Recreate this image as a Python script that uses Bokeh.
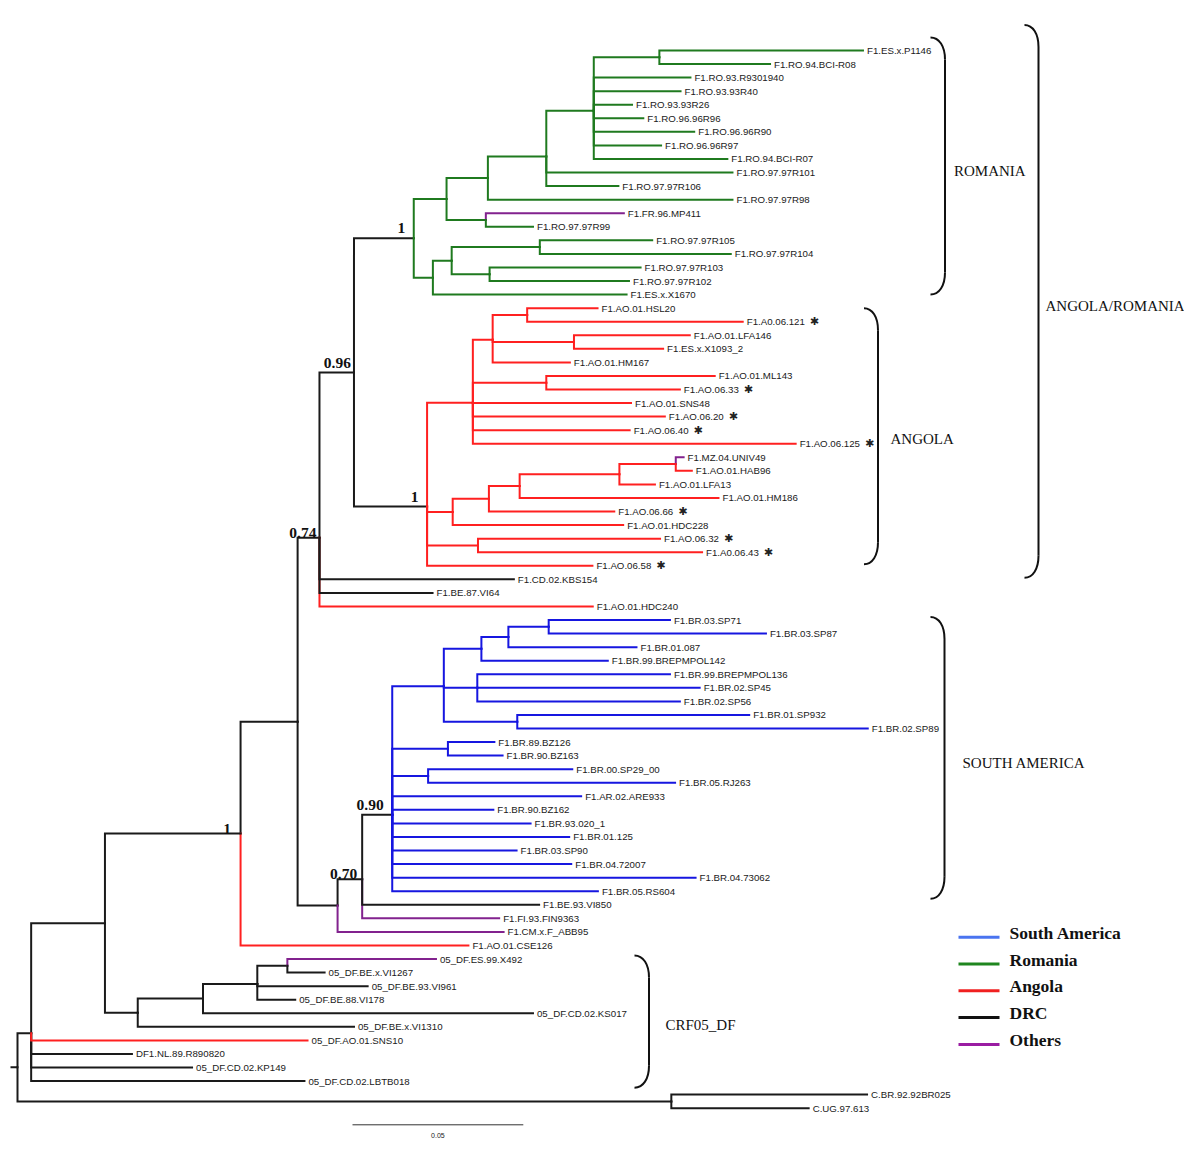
import numpy as np
from bokeh.plotting import figure
from bokeh.models import Range1d
from bokeh.embed import file_html
from bokeh.resources import INLINE
from bokeh.core.properties import value

# ---------------- data: internal nodes (depth in substitutions/site) ----------------
node_names = ["root", "ingroup", "n104", "n240", "n297", "n319", "n353",
              "rom", "romA", "romC", "romE", "romF", "romG", "romD", "romB", "romH", "romI", "romJ",
              "ang", "angK", "angR", "angT", "angU", "angS", "angL", "angN", "angO", "angP", "angQ", "angM",
              "n337", "n362", "sa", "saV", "saW", "saZ", "saAA", "saX", "saY", "saBB", "saCC",
              "df", "df202", "df257", "df287", "outC"]
node_parents = [None, "root", "ingroup", "n104", "n240", "n297", "n319",
                "n353", "rom", "romA", "romC", "romE", "romF", "romA", "rom", "romB", "romH", "romH",
                "n353", "ang", "angK", "angR", "angR", "angK", "ang", "angL", "angN", "angO", "angP", "ang",
                "n297", "n337", "n362", "sa", "saV", "saW", "saZ", "saV", "saV", "sa", "sa",
                "n104", "df", "df202", "df257", "root"]
node_depth = [0.0, 0.0040, 0.0256, 0.0653, 0.0820, 0.0884, 0.0985,
              0.1160, 0.1256, 0.1377, 0.1548, 0.1687, 0.1879, 0.1371, 0.1216, 0.1271, 0.1529, 0.1382,
              0.1199, 0.1333, 0.1391, 0.1492, 0.1629, 0.1548, 0.1274, 0.1380, 0.1470, 0.1762, 0.1927, 0.1348,
              0.0937, 0.1009, 0.1097, 0.1248, 0.1358, 0.1437, 0.1555, 0.1346, 0.1463, 0.1260, 0.1202,
              0.0352, 0.0543, 0.0702, 0.0790, 0.1914]
node_group = ["DRC", "DRC", "DRC", "DRC", "DRC", "DRC", "DRC",
              "DRC", "RO", "RO", "RO", "RO", "RO", "RO", "RO", "RO", "RO", "RO",
              "DRC", "AO", "AO", "AO", "AO", "AO", "AO", "AO", "AO", "AO", "AO", "AO",
              "DRC", "DRC", "DRC", "SA", "SA", "SA", "SA", "SA", "SA", "SA", "SA",
              "DRC", "DRC", "DRC", "DRC", "DRC"]

# ---------------- data: leaves (top to bottom) ----------------
leaf_names = ["F1.ES.x.P1146", "F1.RO.94.BCI-R08", "F1.RO.93.R9301940", "F1.RO.93.93R40", "F1.RO.93.93R26",
              "F1.RO.96.96R96", "F1.RO.96.96R90", "F1.RO.96.96R97", "F1.RO.94.BCI-R07", "F1.RO.97.97R101",
              "F1.RO.97.97R106", "F1.RO.97.97R98", "F1.FR.96.MP411", "F1.RO.97.97R99", "F1.RO.97.97R105",
              "F1.RO.97.97R104", "F1.RO.97.97R103", "F1.RO.97.97R102", "F1.ES.x.X1670",
              "F1.AO.01.HSL20", "F1.A0.06.121", "F1.AO.01.LFA146", "F1.ES.x.X1093_2", "F1.AO.01.HM167",
              "F1.AO.01.ML143", "F1.AO.06.33", "F1.AO.01.SNS48", "F1.AO.06.20", "F1.AO.06.40",
              "F1.AO.06.125", "F1.MZ.04.UNIV49", "F1.AO.01.HAB96", "F1.AO.01.LFA13", "F1.AO.01.HM186",
              "F1.AO.06.66", "F1.AO.01.HDC228", "F1.AO.06.32", "F1.A0.06.43", "F1.AO.06.58",
              "F1.CD.02.KBS154", "F1.BE.87.VI64", "F1.AO.01.HDC240",
              "F1.BR.03.SP71", "F1.BR.03.SP87", "F1.BR.01.087", "F1.BR.99.BREPMPOL142", "F1.BR.99.BREPMPOL136",
              "F1.BR.02.SP45", "F1.BR.02.SP56", "F1.BR.01.SP932", "F1.BR.02.SP89", "F1.BR.89.BZ126",
              "F1.BR.90.BZ163", "F1.BR.00.SP29_00", "F1.BR.05.RJ263", "F1.AR.02.ARE933", "F1.BR.90.BZ162",
              "F1.BR.93.020_1", "F1.BR.01.125", "F1.BR.03.SP90", "F1.BR.04.72007", "F1.BR.04.73062",
              "F1.BR.05.RS604", "F1.BE.93.VI850", "F1.FI.93.FIN9363", "F1.CM.x.F_ABB95", "F1.AO.01.CSE126",
              "05_DF.ES.99.X492", "05_DF.BE.x.VI1267", "05_DF.BE.93.VI961", "05_DF.BE.88.VI178",
              "05_DF.CD.02.KS017", "05_DF.BE.x.VI1310", "05_DF.AO.01.SNS10", "DF1.NL.89.R890820",
              "05_DF.CD.02.KP149", "05_DF.CD.02.LBTB018", "C.BR.92.92BR025", "C.UG.97.613"]
leaf_parents = ["romG", "romG", "romF", "romF", "romF", "romF", "romF", "romF", "romF", "romE",
                "romE", "romC", "romD", "romD", "romI", "romI", "romJ", "romJ", "romB",
                "angT", "angT", "angU", "angU", "angR", "angS", "angS", "angK", "angK", "angK",
                "angK", "angQ", "angQ", "angP", "angO", "angN", "angL", "angM", "angM", "ang",
                "n319", "n319", "n319",
                "saAA", "saAA", "saZ", "saW", "saX", "saX", "saX", "saY", "saY", "saBB",
                "saBB", "saCC", "saCC", "sa", "sa", "sa", "sa", "sa", "sa", "sa",
                "sa", "n362", "n362", "n337", "n240",
                "df287", "df287", "df257", "df257", "df202", "df", "ingroup", "ingroup",
                "ingroup", "ingroup", "outC", "outC"]
leaf_depth = [0.2475, 0.2203, 0.1970, 0.1941, 0.1799, 0.1832, 0.1981, 0.1884, 0.2078, 0.2093,
              0.1759, 0.2093, 0.1775, 0.1509, 0.1858, 0.2088, 0.1824, 0.1790, 0.1783,
              0.1698, 0.2123, 0.1968, 0.1890, 0.1617, 0.2041, 0.1939, 0.1796, 0.1895, 0.1792,
              0.2278, 0.1950, 0.1974, 0.1866, 0.2052, 0.1747, 0.1773, 0.1881, 0.2004, 0.1683,
              0.1453, 0.1215, 0.1684,
              0.1910, 0.2191, 0.1812, 0.1728, 0.1910, 0.1997, 0.1939, 0.2142, 0.2489, 0.1396,
              0.1420, 0.1624, 0.1925, 0.1650, 0.1393, 0.1502, 0.1615, 0.1461, 0.1621, 0.1985,
              0.1699, 0.1527, 0.1410, 0.1423, 0.1320,
              0.1225, 0.0899, 0.1025, 0.0813, 0.1509, 0.0985, 0.0849, 0.0335,
              0.0511, 0.0840, 0.2487, 0.2316]
leaf_group = ["RO"] * 12 + ["OT"] + ["RO"] * 6 + \
             ["AO"] * 11 + ["OT"] + ["AO"] * 8 + \
             ["DRC", "DRC", "AO"] + ["SA"] * 21 + \
             ["DRC", "OT", "OT", "AO"] + \
             ["OT", "DRC", "DRC", "DRC", "DRC", "DRC", "AO", "DRC", "DRC", "DRC", "DRC", "DRC"]
leaf_marked = ["F1.A0.06.121", "F1.AO.06.33", "F1.AO.06.20", "F1.AO.06.40", "F1.AO.06.125",
               "F1.AO.06.66", "F1.AO.06.32", "F1.A0.06.43", "F1.AO.06.58"]

support_nodes = ["rom", "n353", "ang", "n319", "n240", "sa", "n362"]
support_values = ["1", "0.96", "1", "0.74", "1", "0.90", "0.70"]

clade_names = ["ROMANIA", "ANGOLA", "ANGOLA/ROMANIA", "SOUTH AMERICA", "CRF05_DF"]
clade_first = [0, 19, 0, 42, 67]
clade_last = [18, 38, 38, 62, 76]

legend_groups = ["SA", "RO", "AO", "DRC", "OT"]
legend_labels = ["South America", "Romania", "Angola", "DRC", "Others"]
scale_bar_length = 0.05

# ---------------- styles ----------------
branch_colors = {"SA": "#1616e0", "RO": "#1f7a1f", "AO": "#ff2020", "DRC": "#1a1a1a", "OT": "#82228e"}
legend_colors = {"SA": "#4a74f0", "RO": "#1f861f", "AO": "#f02020", "DRC": "#111111", "OT": "#9a1ca2"}

W, H = 1184, 1138
S = 3416.0       # pixels per substitution/site
ROW = 13.56      # pixels per leaf row
X0, Y0, PAD = 17.0, 50.0, 0.0

def hx(px):
    return (px - X0) / S

def hy(py):
    return (py - Y0) / ROW

p = figure(width=W, height=H,
           x_range=Range1d(hx(PAD), hx(PAD + W)),
           y_range=Range1d(hy(PAD + H), hy(PAD)),
           output_backend="svg", toolbar_location=None, min_border=0,
           x_axis_type=None, y_axis_type=None, outline_line_color=None,
           background_fill_color="white", border_fill_color="white")
p.grid.grid_line_color = None

# ---------------- tree geometry ----------------
depth = dict(zip(node_names, node_depth))
parent = dict(zip(node_names, node_parents))
group = dict(zip(node_names, node_group))
children = {n: [] for n in node_names}
for n, par in zip(node_names, node_parents):
    if par is not None:
        children[par].append(n)
leaf_index = {}
for i, (n, par, d, g) in enumerate(zip(leaf_names, leaf_parents, leaf_depth, leaf_group)):
    depth[n] = d
    parent[n] = par
    group[n] = g
    children[par].append(n)
    leaf_index[n] = i

ycache = {}
def ypos(n):
    if n in leaf_index:
        return float(leaf_index[n])
    if n not in ycache:
        ycache[n] = float(np.mean([ypos(c) for c in children[n]]))
    return ycache[n]

elbows = []
for n, par in parent.items():
    if par is None:
        continue
    xp, yp = depth[par], ypos(par)
    xc, yc = depth[n], ypos(n)
    elbows.append((abs(yc - yp), [xp, xp, xc], [yp, yc, yc], branch_colors[group[n]]))
elbows.sort(key=lambda e: -e[0])
p.multi_line(xs=[e[1] for e in elbows], ys=[e[2] for e in elbows],
             line_color=[e[3] for e in elbows], line_width=2,
             line_join="miter", line_cap="square")
# root stub
p.segment(x0=[hx(10)], y0=[ypos("root")], x1=[0.0], y1=[ypos("root")], line_color="#1a1a1a", line_width=2)

# ---------------- leaf labels ----------------
LABEL_FS = 9.7
p.text(x=[d + 4 / S for d in leaf_depth], y=list(range(len(leaf_names))), text=leaf_names,
       text_baseline="middle", text_align="left", text_font=value("Liberation Sans"),
       text_font_size=f"{LABEL_FS}px", text_color="#1a1a1a")

arial = {'F': 611, '1': 556, '.': 278, 'A': 667, 'O': 778, '_': 556}
def text_w(s):
    return sum(arial.get(ch, 556) for ch in s) / 1000.0 * LABEL_FS

ax, ay = [], []
for n in leaf_marked:
    i = leaf_index[n]
    ax.append(depth[n] + (4 + text_w(n) + 9.5) / S)
    ay.append(i)
p.text(x=ax, y=ay, text=["\u2731"] * len(ax), text_align="center", text_baseline="middle",
       text_font=value("DejaVu Sans"), text_font_size="11px", text_color="#222222")

# ---------------- support values ----------------
sup_dx = [-8.5, -3.0, -8.5, -3.0, -9.5, -8.5, -5.0]
sup_dy = [-10.0, -9.5, -9.0, -5.0, -4.5, -9.3, -5.0]
p.text(x=[depth[n] + dx / S for n, dx in zip(support_nodes, sup_dx)],
       y=[ypos(n) + dy / ROW for n, dy in zip(support_nodes, sup_dy)],
       text=support_values, text_align="right", text_baseline="alphabetic",
       text_font=value("Liberation Serif"), text_font_style="bold",
       text_font_size="15.5px", text_color="#111111")

# ---------------- clade brackets ----------------
br_x0 = [930.0, 863.5, 1024.0, 930.0, 634.0]
br_x1 = [944.5, 877.5, 1038.0, 944.0, 648.5]
br_pad_top = [-13.0, 0.0, -25.6, -3.0, -3.6]
br_pad_bot = [0.0, -1.5, 12.0, 7.6, 6.6]
lab_x = [953.5, 890.0, 1045.0, 962.0, 665.0]
lab_dy = [-2.0, 2.0, -2.5, 7.0, 5.0]
CURL = 22.0
bx0, by0, bx1, by1, bcx0, bcy0, bcx1, bcy1 = [], [], [], [], [], [], [], []
sx0, sy0, sx1, sy1 = [], [], [], []
lx, ly = [], []
for k in range(len(clade_names)):
    top = Y0 + clade_first[k] * ROW + br_pad_top[k]
    bot = Y0 + clade_last[k] * ROW + br_pad_bot[k]
    a, b = br_x0[k], br_x1[k]
    w = b - a
    # top curl
    bx0.append(hx(a)); by0.append(hy(top)); bx1.append(hx(b)); by1.append(hy(top + CURL))
    bcx0.append(hx(a + 0.6 * w)); bcy0.append(hy(top)); bcx1.append(hx(b)); bcy1.append(hy(top + 0.4 * CURL))
    # bottom curl
    bx0.append(hx(a)); by0.append(hy(bot)); bx1.append(hx(b)); by1.append(hy(bot - CURL))
    bcx0.append(hx(a + 0.6 * w)); bcy0.append(hy(bot)); bcx1.append(hx(b)); bcy1.append(hy(bot - 0.4 * CURL))
    sx0.append(hx(b)); sy0.append(hy(top + CURL)); sx1.append(hx(b)); sy1.append(hy(bot - CURL))
    lx.append(hx(lab_x[k]))
    ly.append((clade_first[k] + clade_last[k]) / 2.0 + lab_dy[k] / ROW)
p.bezier(x0=bx0, y0=by0, x1=bx1, y1=by1, cx0=bcx0, cy0=bcy0, cx1=bcx1, cy1=bcy1,
         line_color="#111111", line_width=2)
p.segment(x0=sx0, y0=sy0, x1=sx1, y1=sy1, line_color="#111111", line_width=2)
p.text(x=lx, y=ly, text=clade_names, text_align="left", text_baseline="middle",
       text_font=value("Liberation Serif"), text_font_size="15px", text_color="#111111")

# ---------------- legend ----------------
leg_y = [936.7 + 26.8 * k for k in range(len(legend_labels))]
p.segment(x0=[hx(958.0)] * 5, y0=[hy(v) for v in leg_y], x1=[hx(999.0)] * 5, y1=[hy(v) for v in leg_y],
          line_color=[legend_colors[g] for g in legend_groups], line_width=3)
p.text(x=[hx(1009.0)] * 5, y=[hy(v - 4.5) for v in leg_y], text=legend_labels,
       text_align="left", text_baseline="middle", text_font=value("Liberation Serif"),
       text_font_style="bold", text_font_size="17.5px", text_color="#111111")

# ---------------- scale bar ----------------
sb_x = hx(352.0)
sb_y = hy(1124.3)
p.segment(x0=[sb_x], y0=[sb_y], x1=[sb_x + scale_bar_length], y1=[sb_y], line_color="#333333", line_width=1)
p.text(x=[sb_x + scale_bar_length / 2], y=[hy(1135.0)], text=[f"{scale_bar_length:.2f}"],
       text_align="center", text_baseline="middle", text_font=value("Liberation Sans"),
       text_font_size="7px", text_color="#222222")

open("out.html", "w").write(file_html(p, INLINE))
